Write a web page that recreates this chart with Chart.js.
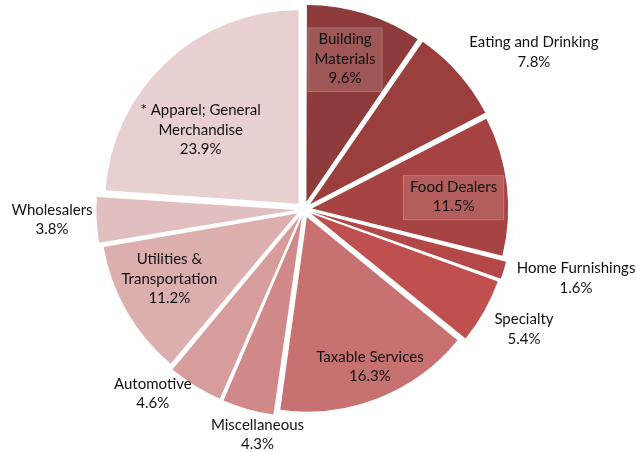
<!DOCTYPE html>
<html lang="en">
<head>
    <meta charset="UTF-8">
    <title>Taxable Sales by Category</title>
    <script src="https://cdn.jsdelivr.net/npm/chart.js"></script>
    <style>
        body {
            margin: 0;
            background-color: #ffffff;
        }
        #salesPie {
            display: block;
        }
    </style>
</head>
<body>
    <canvas id="salesPie" width="636" height="452"></canvas>

    <script>
        // Categories and shares, clockwise from 12 o'clock
        const categories = [
            ['Building', 'Materials'],
            ['Eating and Drinking'],
            ['Food Dealers'],
            ['Home Furnishings'],
            ['Specialty'],
            ['Taxable Services'],
            ['Miscellaneous'],
            ['Automotive'],
            ['Utilities &', 'Transportation'],
            ['Wholesalers'],
            ['* Apparel; General', 'Merchandise']
        ];
        const shares = [9.6, 7.8, 11.5, 1.6, 5.4, 16.3, 4.3, 4.6, 11.2, 3.8, 23.9];
        const sliceColors = [
            '#8e3b3b', '#9b3e3e', '#a84343', '#b44848', '#c04f4f', '#c87171',
            '#d08888', '#d79c9c', '#dcaeae', '#e2bfbf', '#e8d0d0'
        ];

        // Label placement: distance (x radius) and turn (degrees) from slice mid-angle
        const labelDist = [0.795, 1.433, 0.775, 1.453, 1.30, 0.893, 1.20, 1.242, 0.789, 1.304, 0.666];
        const labelTurn = [-1.8, 7.4, 2.7, -2.3, -0.5, -1.0, -4.1, 7.3, 1.7, 0, -10.3];
        const labelBoxed = [true, false, true, false, false, false, false, false, false, false, false];

        const pieLabels = {
            id: 'pieLabels',
            afterDatasetsDraw(chart) {
                const ctx = chart.ctx;
                const meta = chart.getDatasetMeta(0);
                const lineH = 19.5;
                ctx.save();
                ctx.font = '15px Lato';
                ctx.textAlign = 'center';
                ctx.textBaseline = 'middle';
                meta.data.forEach((arc, i) => {
                    const p = arc.getProps(['x', 'y', 'startAngle', 'endAngle', 'outerRadius'], true);
                    const a = (p.startAngle + p.endAngle) / 2 + labelTurn[i] * Math.PI / 180;
                    const d = labelDist[i] * p.outerRadius;
                    const cx = p.x + Math.cos(a) * d;
                    const cy = p.y + Math.sin(a) * d - 2.5;
                    const lines = categories[i].concat([shares[i].toFixed(1) + '%']);
                    const top = cy - (lines.length - 1) * lineH / 2;
                    if (labelBoxed[i]) {
                        const w = Math.max(...lines.map(l => ctx.measureText(l).width)) + 14;
                        const h = lines.length * lineH + 6;
                        ctx.fillStyle = 'rgba(255, 255, 255, 0.14)';
                        ctx.fillRect(cx - w / 2, cy - h / 2 + 1, w, h);
                        ctx.strokeStyle = 'rgba(255, 255, 255, 0.18)';
                        ctx.lineWidth = 1;
                        ctx.strokeRect(cx - w / 2 + 0.5, cy - h / 2 + 1.5, w - 1, h - 1);
                    }
                    ctx.fillStyle = '#111111';
                    lines.forEach((l, k) => ctx.fillText(l, cx, top + k * lineH));
                });
                ctx.restore();
            }
        };

        new Chart(document.getElementById('salesPie').getContext('2d'), {
            type: 'pie',
            data: {
                labels: categories.map(c => c.join(' ')),
                datasets: [{
                    data: shares,
                    backgroundColor: sliceColors,
                    borderWidth: 0,
                    offset: 32
                }]
            },
            options: {
                responsive: false,
                animation: false,
                layout: {
                    padding: { top: -5, bottom: 33, left: 92, right: 120 }
                },
                plugins: {
                    legend: { display: false },
                    tooltip: { enabled: false }
                }
            },
            plugins: [pieLabels]
        });
    </script>
</body>
</html>
